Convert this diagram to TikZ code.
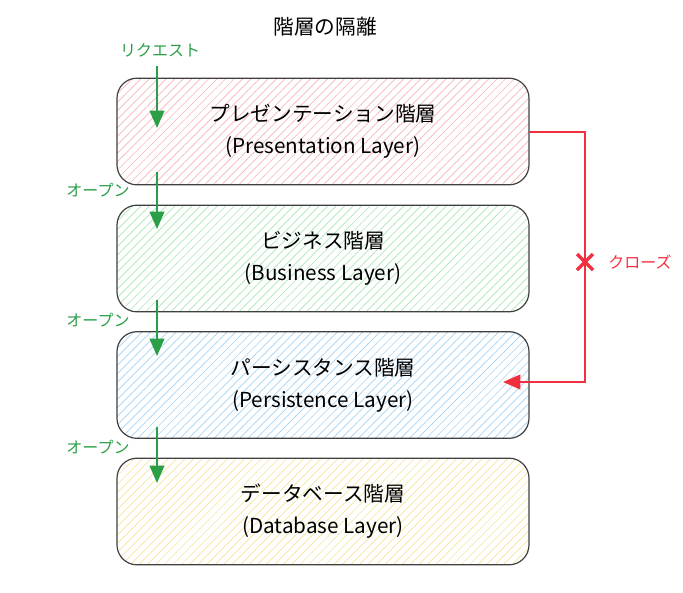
\documentclass[tikz,border=0pt]{standalone}
\usepackage{fontspec}
\setmainfont{Noto Sans CJK JP}
\usepackage{tikz}
\usetikzlibrary{positioning}
\usetikzlibrary{arrows.meta}
\usetikzlibrary{patterns.meta}
\definecolor{openGreen}{HTML}{2B9E48}
\definecolor{closeRed}{HTML}{F0303E}
\definecolor{hatchRed}{HTML}{F8B4B4}
\definecolor{hatchGreen}{HTML}{A8E6B2}
\definecolor{hatchBlue}{HTML}{A3D2F5}
\definecolor{hatchYellow}{HTML}{F8E29A}

\begin{document}
\begin{tikzpicture}[x=0.75pt, y=-0.75pt,
  layer/.style={draw=black!75, line width=0.9pt, rounded corners=15pt,
    minimum width=309pt, minimum height=80pt, align=center,
    font=\fontsize{15.5}{24}\selectfont},
  hatch/.style={pattern={Lines[angle=45, distance=4.5pt, line width=0.5pt]}, pattern color=#1},
  openarrow/.style={draw=openGreen, line width=1.5pt, -{Triangle[length=13pt, width=11pt]}},
  openlabel/.style={text=openGreen, font=\fontsize{12}{14}\selectfont},
  closelabel/.style={text=closeRed, font=\fontsize{12}{14}\selectfont}]
\useasboundingbox (0,0) rectangle (683,593);
% -- title --
\node (title) at (325,27) {\fontsize{15.5}{18}\selectfont 階層の隔離};
% -- layers --
\node[layer, hatch=hatchRed] (presentation) at (323,131.5) {プレゼンテーション階層\\(Presentation Layer)};
\node[layer, hatch=hatchGreen] (business) at (323,258.5) {ビジネス階層\\(Business Layer)};
\node[layer, hatch=hatchBlue] (persistence) at (323,385) {パーシスタンス階層\\(Persistence Layer)};
\node[layer, hatch=hatchYellow] (database) at (323,511.5) {データベース階層\\(Database Layer)};
% -- open requests --
\coordinate (req) at (157,66);
\coordinate (reqend) at (157,128);
\coordinate (open1) at (157,172);
\coordinate (open1end) at (157,229);
\coordinate (open2) at (157,300);
\coordinate (open2end) at (157,356);
\coordinate (open3) at (157,427);
\coordinate (open3end) at (157,483);
\draw[openarrow] (req) to (reqend);
\draw[openarrow] (open1) to (open1end);
\draw[openarrow] (open2) to (open2end);
\draw[openarrow] (open3) to (open3end);
\node[openlabel] (reqlabel) at (160,50) {リクエスト};
\node[openlabel] (open1label) at (98,190) {オープン};
\node[openlabel] (open2label) at (98,320) {オープン};
\node[openlabel] (open3label) at (98,447) {オープン};
% -- closed bypass --
\coordinate (bypassend) at (503,382);
\draw[draw=closeRed, line width=1.5pt, -{Triangle[length=13pt, width=11pt]}]
  (presentation.east) -- (585,131.5) -- (585,382) -- (bypassend);
\draw[closeRed, line width=2.6pt] (577,254) -- (593,270);
\draw[closeRed, line width=2.6pt] (577,270) -- (593,254);
\node[closelabel] (closelabel) at (640,262) {クローズ};
\end{tikzpicture}
\end{document}
